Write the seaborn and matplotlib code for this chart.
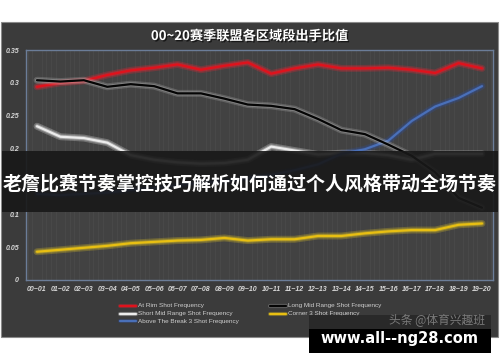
import numpy as np
import pandas as pd
import matplotlib
matplotlib.use("Agg")
import matplotlib.pyplot as plt
import matplotlib.patheffects as pe
from matplotlib.patches import Rectangle
from matplotlib.lines import Line2D
from matplotlib.ticker import MultipleLocator
import seaborn as sns

# ---------------- data ----------------
seasons = ["00~01", "01~02", "02~03", "03~04", "04~05", "05~06", "06~07", "07~08", "08~09", "09~10",
           "10~11", "11~12", "12~13", "13~14", "14~15", "15~16", "16~17", "17~18", "18~19", "19~20"]
at_rim = [0.294, 0.300, 0.303, 0.312, 0.319, 0.323, 0.328, 0.320, 0.326, 0.331,
          0.314, 0.322, 0.328, 0.322, 0.322, 0.323, 0.320, 0.315, 0.330, 0.322]
short_mid = [0.234, 0.218, 0.216, 0.209, 0.190, 0.183, 0.179, 0.177, 0.178, 0.183,
             0.203, 0.197, 0.191, 0.193, 0.193, 0.190, 0.183, 0.192, 0.192, 0.192]
above_break3 = [0.131, 0.129, 0.131, 0.133, 0.137, 0.140, 0.144, 0.148, 0.150, 0.155,
                0.160, 0.167, 0.176, 0.192, 0.199, 0.212, 0.242, 0.264, 0.277, 0.295]
long_mid = [0.304, 0.302, 0.304, 0.294, 0.298, 0.295, 0.284, 0.284, 0.276, 0.267,
            0.265, 0.260, 0.245, 0.228, 0.222, 0.206, 0.189, 0.164, 0.125, 0.110]
corner3 = [0.043, 0.046, 0.049, 0.052, 0.056, 0.058, 0.060, 0.061, 0.064, 0.060,
           0.062, 0.062, 0.067, 0.067, 0.071, 0.074, 0.076, 0.076, 0.084, 0.086]
series_names = ["At Rim Shot Frequency", "Short Mid Range Shot Frequency",
                "Above The Break 3 Shot Frequency", "Long Mid Range Shot Frequency",
                "Corner 3 Shot Frequency"]
y_ticks = [0, 0.05, 0.1, 0.15, 0.2, 0.25, 0.3, 0.35]
y_labels = ["0", "0.05", "0.1", "0.15", "0.2", "0.25", "0.3", "0.35"]
title = "00~20赛季联盟各区域段出手比值"
banner = "老詹比赛节奏掌控技巧解析如何通过个人风格带动全场节奏"
mark1 = "头条 @体育兴趣班"
mark2 = "www.all--ng28.com"

colors = {
    series_names[0]: "#e0121c",
    series_names[1]: "#ececec",
    series_names[2]: "#4a70b8",
    series_names[3]: "#050505",
    series_names[4]: "#e8bf12",
}
glows = {
    series_names[0]: "#ff2030",
    series_names[1]: "#ffffff",
    series_names[2]: "#3050a0",
    series_names[3]: "#bdbdbd",
    series_names[4]: "#f0d020",
}

rows = []
for name, vals in zip(series_names, [at_rim, short_mid, above_break3, long_mid, corner3]):
    for i, v in enumerate(vals):
        rows.append({"idx": i, "season": seasons[i], "value": v, "series": name})
df = pd.DataFrame(rows)

# ---------------- figure ----------------
sns.set_theme(style="dark")
plt.rcParams["font.family"] = ["DejaVu Sans", "Noto Sans CJK SC"]

W, H = 500, 362
fig = plt.figure(figsize=(W / 100, H / 100), dpi=100)
fig.patch.set_facecolor("white")

def fx(px):
    return px / W

def fy(py):
    return 1 - py / H

# chart panel
fig.patches.append(Rectangle((fx(1), fy(337)), fx(498) - fx(1), fy(22) - fy(337),
                             transform=fig.transFigure, facecolor="#3b3b3b",
                             edgecolor="#8a8a8a", linewidth=0.8, zorder=-5))

ax = fig.add_axes([fx(26), fy(280), fx(493) - fx(26), fy(50) - fy(280)])
ax.set_facecolor("#424242")
for s in ax.spines.values():
    s.set_color("#6b7d98")
    s.set_linewidth(1.0)

sns.lineplot(data=df, x="idx", y="value", hue="series", palette=colors,
             hue_order=series_names, ax=ax, legend=False, linewidth=1.6, sort=False)

for line, name in zip(ax.lines, series_names):
    line.set_path_effects([pe.Stroke(linewidth=5, foreground=glows[name], alpha=0.25),
                           pe.Stroke(linewidth=3, foreground=glows[name], alpha=0.35),
                           pe.Normal()])

ax.set_xlim(-0.47, 19.47)
ax.set_ylim(0, 0.35)
ax.set_xticks(range(len(seasons)))
ax.set_xticklabels(seasons, fontsize=5, color="#d8d8d8", style="italic",
                   fontweight="bold", family="Liberation Sans")
ax.set_yticks(y_ticks)
ax.set_yticklabels(y_labels, fontsize=5, color="#d8d8d8", style="italic",
                   fontweight="bold", family="Liberation Sans")
ax.tick_params(axis="both", length=0, pad=5)
ax.tick_params(axis="x", pad=4)
ax.set_xlabel("")
ax.set_ylabel("")
ax.xaxis.set_minor_locator(MultipleLocator(0.2))
ax.grid(False)
ax.grid(which="minor", axis="x", color="#4a4a4a", linewidth=0.6)

# title
fig.text(0.5, fy(36), title, ha="center", va="center", fontsize=9.5, fontweight="bold",
         color="white", family=["Noto Sans CJK SC", "DejaVu Sans"],
         path_effects=[pe.withSimplePatchShadow(offset=(1, -1), shadow_rgbFace="black", alpha=0.6)])

# legend (manual, two columns)
leg_rows = [306, 313.5, 321]
leg_items = [(series_names[0], 120, 0), (series_names[1], 120, 1), (series_names[2], 120, 2),
             (series_names[3], 270, 0), (series_names[4], 270, 1)]
for name, x0, r in leg_items:
    y = fy(leg_rows[r])
    fig.add_artist(Line2D([fx(x0), fx(x0 + 16)], [y, y], transform=fig.transFigure,
                          color=colors[name], linewidth=1.6,
                          path_effects=[pe.Stroke(linewidth=3, foreground=glows[name], alpha=0.3),
                                        pe.Normal()]))
    fig.text(fx(x0 + 18), y, name, ha="left", va="center", fontsize=4.6, color="#cfcfcf",
             family="Liberation Sans")

# banner overlay
fig.patches.append(Rectangle((fx(2), fy(212)), fx(498) - fx(2), fy(151) - fy(212),
                             transform=fig.transFigure, facecolor="#181818", alpha=0.9,
                             edgecolor="none", zorder=10))
fig.text(0.5, fy(184), banner, ha="center", va="center", fontsize=13.7, fontweight="bold",
         color="white", family=["Noto Sans CJK SC", "DejaVu Sans"], zorder=11)

# watermark
fig.patches.append(Rectangle((fx(309), fy(329)), fx(491) - fx(309), fy(315) - fy(329),
                             transform=fig.transFigure, facecolor="#222222", alpha=0.7,
                             edgecolor="none", zorder=10))
fig.patches.append(Rectangle((fx(309), fy(353)), fx(491) - fx(309), fy(329) - fy(353),
                             transform=fig.transFigure, facecolor="black",
                             edgecolor="none", zorder=10))
fig.text(fx(437), fy(321), mark1, ha="center", va="center", fontsize=8.5, color="#7a7a7a",
         family=["Noto Sans CJK SC", "DejaVu Sans"], zorder=11)
fig.text(fx(399), fy(338), mark2, ha="center", va="center", fontsize=10.5, fontweight="bold",
         color="white", family="DejaVu Sans", zorder=11)

fig.savefig("out.png", dpi=100, facecolor="white")
